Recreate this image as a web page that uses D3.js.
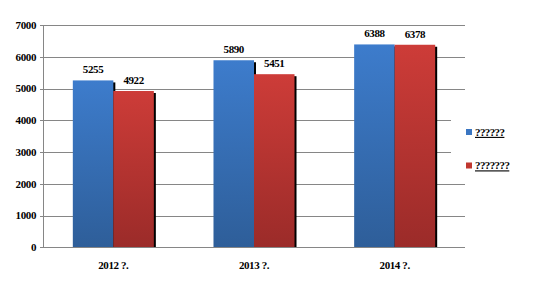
<!DOCTYPE html>
<html>
<head>
<meta charset="utf-8">
<script src="https://cdn.jsdelivr.net/npm/d3@7"></script>
<style>
  body { margin: 0; background: #fff; }
  text { font-family: "Liberation Serif", "Times New Roman", serif; font-size: 11px; font-weight: bold; fill: #000; }
</style>
</head>
<body>
<div id="viz"></div>
<script>
// grouped column chart, two series per year, excel-like look

var categories = ["2012 ?.", "2013 ?.", "2014 ?."];
var seriesNames = ["??????", "???????"];
var series1 = [5255, 5890, 6388];
var series2 = [4922, 5451, 6378];
var yTicks = [0, 1000, 2000, 3000, 4000, 5000, 6000, 7000];

var W = 533, H = 297;
var plotLeft = 43, plotRight = 465, plotTop = 25, plotBottom = 247.3;

var svg = d3.select("#viz").append("svg")
    .attr("width", W)
    .attr("height", H);

var defs = svg.append("defs");
function add_gradient(id, c1, c2) {
    var g = defs.append("linearGradient").attr("id", id)
        .attr("x1", 0).attr("y1", 0).attr("x2", 0).attr("y2", 1);
    g.append("stop").attr("offset", "0%").attr("stop-color", c1);
    g.append("stop").attr("offset", "100%").attr("stop-color", c2);
}
add_gradient("gBlue", "#3d7ccc", "#2e5e99");
add_gradient("gRed", "#cd3c38", "#9b2b29");
var fills = ["url(#gBlue)", "url(#gRed)"];
var legendFills = ["#3a76c2", "#c0372f"];

var x0 = d3.scaleBand().domain(categories).range([plotLeft, plotRight])
    .paddingInner(0.424).paddingOuter(0.212);
var x1 = d3.scaleBand().domain([0, 1]).range([0, x0.bandwidth()]);
var y = d3.scaleLinear().domain([0, 7000]).range([plotBottom, plotTop]);

// gridlines + ticks
svg.append("g").selectAll("line").data(yTicks).enter().append("line")
    .attr("x1", plotLeft - 3).attr("x2", plotRight)
    .attr("y1", function(d) { return Math.round(y(d)) + 0.5; })
    .attr("y2", function(d) { return Math.round(y(d)) + 0.5; })
    .attr("stroke", "#868686").attr("stroke-width", 1);

// legend background hides part of the grid
svg.append("rect").attr("x", 451).attr("y", 100).attr("width", 82).attr("height", 78).attr("fill", "#fff");

svg.append("line")
    .attr("x1", plotLeft + 0.5).attr("x2", plotLeft + 0.5)
    .attr("y1", y(7000)).attr("y2", Math.round(y(0)) + 0.5)
    .attr("stroke", "#868686");

svg.append("g").selectAll("text").data(yTicks).enter().append("text")
    .attr("x", 36).attr("y", function(d) { return y(d); })
    .attr("dy", "0.35em").attr("text-anchor", "end")
    .style("letter-spacing", "-0.4px")
    .text(function(d) { return d; });

var rows = categories.map(function(c, i) { return [series1[i], series2[i]]; });

var groups = svg.append("g").selectAll("g").data(rows).enter().append("g")
    .attr("transform", function(d, i) { return "translate(" + x0(categories[i]) + ",0)"; });

// shadows first
groups.selectAll("rect.sh").data(function(d) { return d; }).enter().append("rect")
    .attr("class", "sh")
    .attr("x", function(d, j) { return x1(j) + 2; })
    .attr("y", function(d) { return y(d) + 2; })
    .attr("width", x1.bandwidth())
    .attr("height", function(d) { return y(0) - y(d) - 2; })
    .attr("fill", "#000");

groups.selectAll("rect.bar").data(function(d) { return d; }).enter().append("rect")
    .attr("class", "bar")
    .attr("x", function(d, j) { return x1(j); })
    .attr("y", function(d) { return y(d); })
    .attr("width", x1.bandwidth())
    .attr("height", function(d) { return y(0) - y(d); })
    .attr("fill", function(d, j) { return fills[j]; });

groups.selectAll("text").data(function(d) { return d; }).enter().append("text")
    .attr("x", function(d, j) { return x1(j) + x1.bandwidth() / 2; })
    .attr("y", function(d) { return y(d) - 11; })
    .attr("dy", "0.35em")
    .attr("text-anchor", "middle")
    .style("letter-spacing", "-0.4px")
    .text(function(d) { return d; });

// baseline drawn over the bars
svg.append("line")
    .attr("x1", plotLeft - 3).attr("x2", plotRight)
    .attr("y1", Math.round(y(0)) + 0.5).attr("y2", Math.round(y(0)) + 0.5)
    .attr("stroke", "#868686");

svg.append("g").selectAll("text").data(categories).enter().append("text")
    .attr("x", function(d) { return x0(d) + x0.bandwidth() / 2; })
    .attr("y", 265).attr("dy", "0.35em")
    .attr("text-anchor", "middle")
    .style("letter-spacing", "-0.4px")
    .text(function(d) { return d; });

// legend
var legend = svg.append("g").selectAll("g").data(seriesNames).enter().append("g")
    .attr("transform", function(d, i) { return "translate(466," + (129 + i * 33.5) + ")"; });
legend.append("rect").attr("width", 6).attr("height", 6)
    .attr("fill", function(d, i) { return legendFills[i]; });
legend.append("text").attr("x", 9).attr("y", 3).attr("dy", "0.35em")
    .style("text-decoration", "underline")
    .style("letter-spacing", "-0.6px")
    .text(function(d) { return d; });
</script>
</body>
</html>
